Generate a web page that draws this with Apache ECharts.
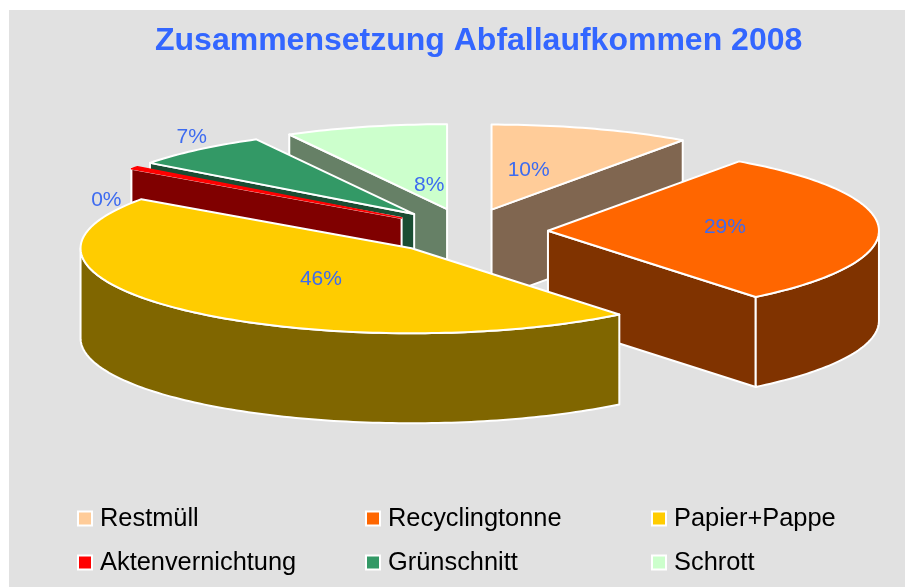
<!DOCTYPE html>
<html><head><meta charset="utf-8">
<style>html,body{margin:0;padding:0;background:#fff}#c{width:905px;height:587px}</style>
<script src="https://cdn.jsdelivr.net/npm/echarts@6/dist/echarts.min.js"></script>
</head><body><div id="c"></div>
<script>
const titleText = 'Zusammensetzung Abfallaufkommen 2008';
const categories = ['Restmüll','Recyclingtonne','Papier+Pappe','Aktenvernichtung','Grünschnitt','Schrott'];
const shares = [9.8, 29.4, 45.6, 0.49, 6.8, 7.91];
const topColors = ['#FFCC99','#FF6600','#FFCC00','#FF0000','#339966','#CCFFCC'];
const sideColors = ['#806650','#803300','#806600','#800000','#1A4D33','#668066'];
const drawOrder = [0,5,4,3,1,2];
const labelFactors = [[0.37,0.49],[0.535,1.2],[0.40,0.5],[1.105,0.36],[1.03,1.2],[0.22,0.29]];

const CX=467, CY=231.5, RX=331, RY=85, EX=81, EY=23, DEPTH=90;
const total = shares.reduce((a,b)=>a+b,0);
const starts = []; { let c=0; shares.forEach(s=>{starts.push(c); c+=s;}); }
const rad = p => p/total*2*Math.PI;

function sliceRender(i){
  return function(params, api){
    const v = api.value(0);
    const t0 = rad(starts[i]), t1 = t0 + rad(v), mid=(t0+t1)/2;
    const ax = CX + EX*Math.sin(mid), ay = CY - EY*Math.cos(mid);
    const rim = t => [ax+RX*Math.sin(t), ay-RY*Math.cos(t)];
    const N = Math.max(2, Math.ceil((t1-t0)/0.02));
    const top = [[ax,ay]];
    for(let k=0;k<=N;k++) top.push(rim(t0+(t1-t0)*k/N));
    const down = p => [p[0],p[1]+DEPTH];
    const line = {stroke:'#fff', lineWidth:2, lineJoin:'round'};
    const face = (t)=>{const r=rim(t);return {type:'polygon',shape:{points:[[ax,ay],r,down(r),[ax,ay+DEPTH]]},style:{fill:sideColors[i],...line}};};
    const kids=[];
    if(t0>Math.PI) kids.push(face(t0));
    if(t1<Math.PI) kids.push(face(t1));
    const wa=Math.max(t0,Math.PI/2), wb=Math.min(t1,Math.PI*1.5);
    if(wb>wa){
      const up=[],lo=[];
      const M=Math.max(2,Math.ceil((wb-wa)/0.02));
      for(let k=0;k<=M;k++){const r=rim(wa+(wb-wa)*k/M);up.push(r);lo.unshift(down(r));}
      kids.push({type:'polygon',shape:{points:up.concat(lo)},style:{fill:sideColors[i],...line}});
    }
    const topLine = (t1-t0)<0.1 ? {stroke:topColors[i],lineWidth:1.5,lineJoin:'round'} : line;
    kids.push({type:'polygon',shape:{points:top},style:{fill:topColors[i],...topLine}});
    const f=labelFactors[i];
    kids.push({type:'text',style:{text:Math.round(v/total*100)+'%',
      x:ax+f[0]*RX*Math.sin(mid),y:ay-f[1]*RY*Math.cos(mid),
      align:'center',verticalAlign:'middle',fill:'#3D6BF0',
      font:'21px "Liberation Sans"'},z2:100});
    return {type:'group',children:kids};
  };
}

const series = drawOrder.map((i,k)=>({
  type:'custom', name:categories[i], coordinateSystem:'none', z:2+k,
  renderItem:sliceRender(i), silent:true, animation:false,
  itemStyle:{color:topColors[i]},
  data:[[shares[i]]]
}));
const legendBase = {orient:'vertical',icon:'rect',itemWidth:14,itemHeight:14,itemGap:19,
  itemStyle:{borderColor:'#fff',borderWidth:2},
  textStyle:{color:'#000',fontFamily:'Liberation Sans',fontSize:25.4,padding:[0,0,4,3]},
  selectedMode:false, padding:0, top:506};
const chart = echarts.init(document.getElementById('c'),null,{renderer:'canvas'});
chart.setOption({
  backgroundColor:'#fff', animation:false,
  graphic:[{type:'rect',z:-10,shape:{x:9,y:10,width:896,height:577},style:{fill:'#E1E1E1'},silent:true}],
  title:{text:titleText,left:150,top:20,textStyle:{color:'#3366FF',fontFamily:'Liberation Sans',fontWeight:'bold',fontSize:32}},
  legend:[
    {...legendBase,left:77,data:[categories[0],categories[3]]},
    {...legendBase,left:365,data:[categories[1],categories[4]]},
    {...legendBase,left:651,data:[categories[2],categories[5]]}
  ],
  series
});
</script></body></html>
